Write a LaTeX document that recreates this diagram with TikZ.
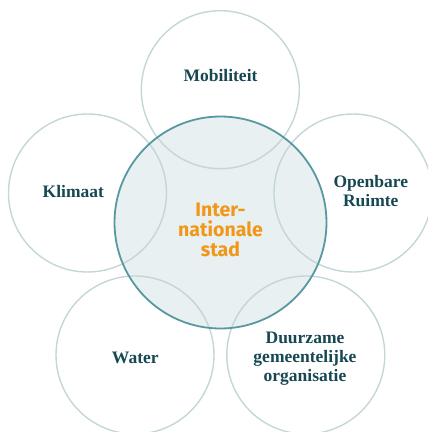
\documentclass[tikz,border=0pt]{standalone}
\usepackage{fontspec}
\setmainfont{Liberation Serif}
\newfontfamily\centrefont{Fira Sans}
\definecolor{ringline}{RGB}{196,214,216}
\definecolor{hubfill}{RGB}{232,240,241}
\definecolor{hubline}{RGB}{88,152,160}
\definecolor{labeltext}{RGB}{22,72,82}
\definecolor{hubtext}{RGB}{242,150,22}
\tikzset{
  ring/.style={circle, draw=ringline, line width=1.4pt, minimum size=158pt, inner sep=0pt},
  ringlabel/.style={font=\fontsize{17.5}{18.8}\selectfont\bfseries, text=labeltext, align=center, anchor=base, inner sep=0pt},
  hublabel/.style={font=\centrefont\fontsize{19.5}{19.8}\selectfont\bfseries, text=hubtext, align=center, anchor=base, inner sep=0pt}
}
\begin{document}
\begin{tikzpicture}[x=1pt,y=-1pt]
\useasboundingbox (0,0) rectangle (428,432);
\begin{scope}
\clip (0,0) rectangle (428,432);
\fill[hubfill] (220.5,222.5) circle (106);
\node[ring] (mob) at (220.3,89.7) {};
\node[ring] (klim) at (87.5,193) {};
\node[ring] (open) at (353,193) {};
\node[ring] (wat) at (135,355) {};
\node[ring] (duur) at (305.8,355) {};
\node[circle, draw=hubline, line width=1.8pt, minimum size=212pt, inner sep=0pt] (hub) at (220.5,222.5) {};
\end{scope}
\node[ringlabel] (tmob) at (220.5,81.7) {Mobiliteit};
\node[ringlabel] (tklim) at (73.3,197) {Klimaat};
\node[ringlabel] (topen) at (370.8,206.7) {Openbare\\Ruimte};
\node[ringlabel] (twat) at (135.3,363) {Water};
\node[ringlabel] (tduur) at (305,381) {Duurzame\\gemeentelijke\\organisatie};
\node[hublabel] (thub) at (220.5,256.5) {Inter-\\nationale\\stad};
\end{tikzpicture}
\end{document}
